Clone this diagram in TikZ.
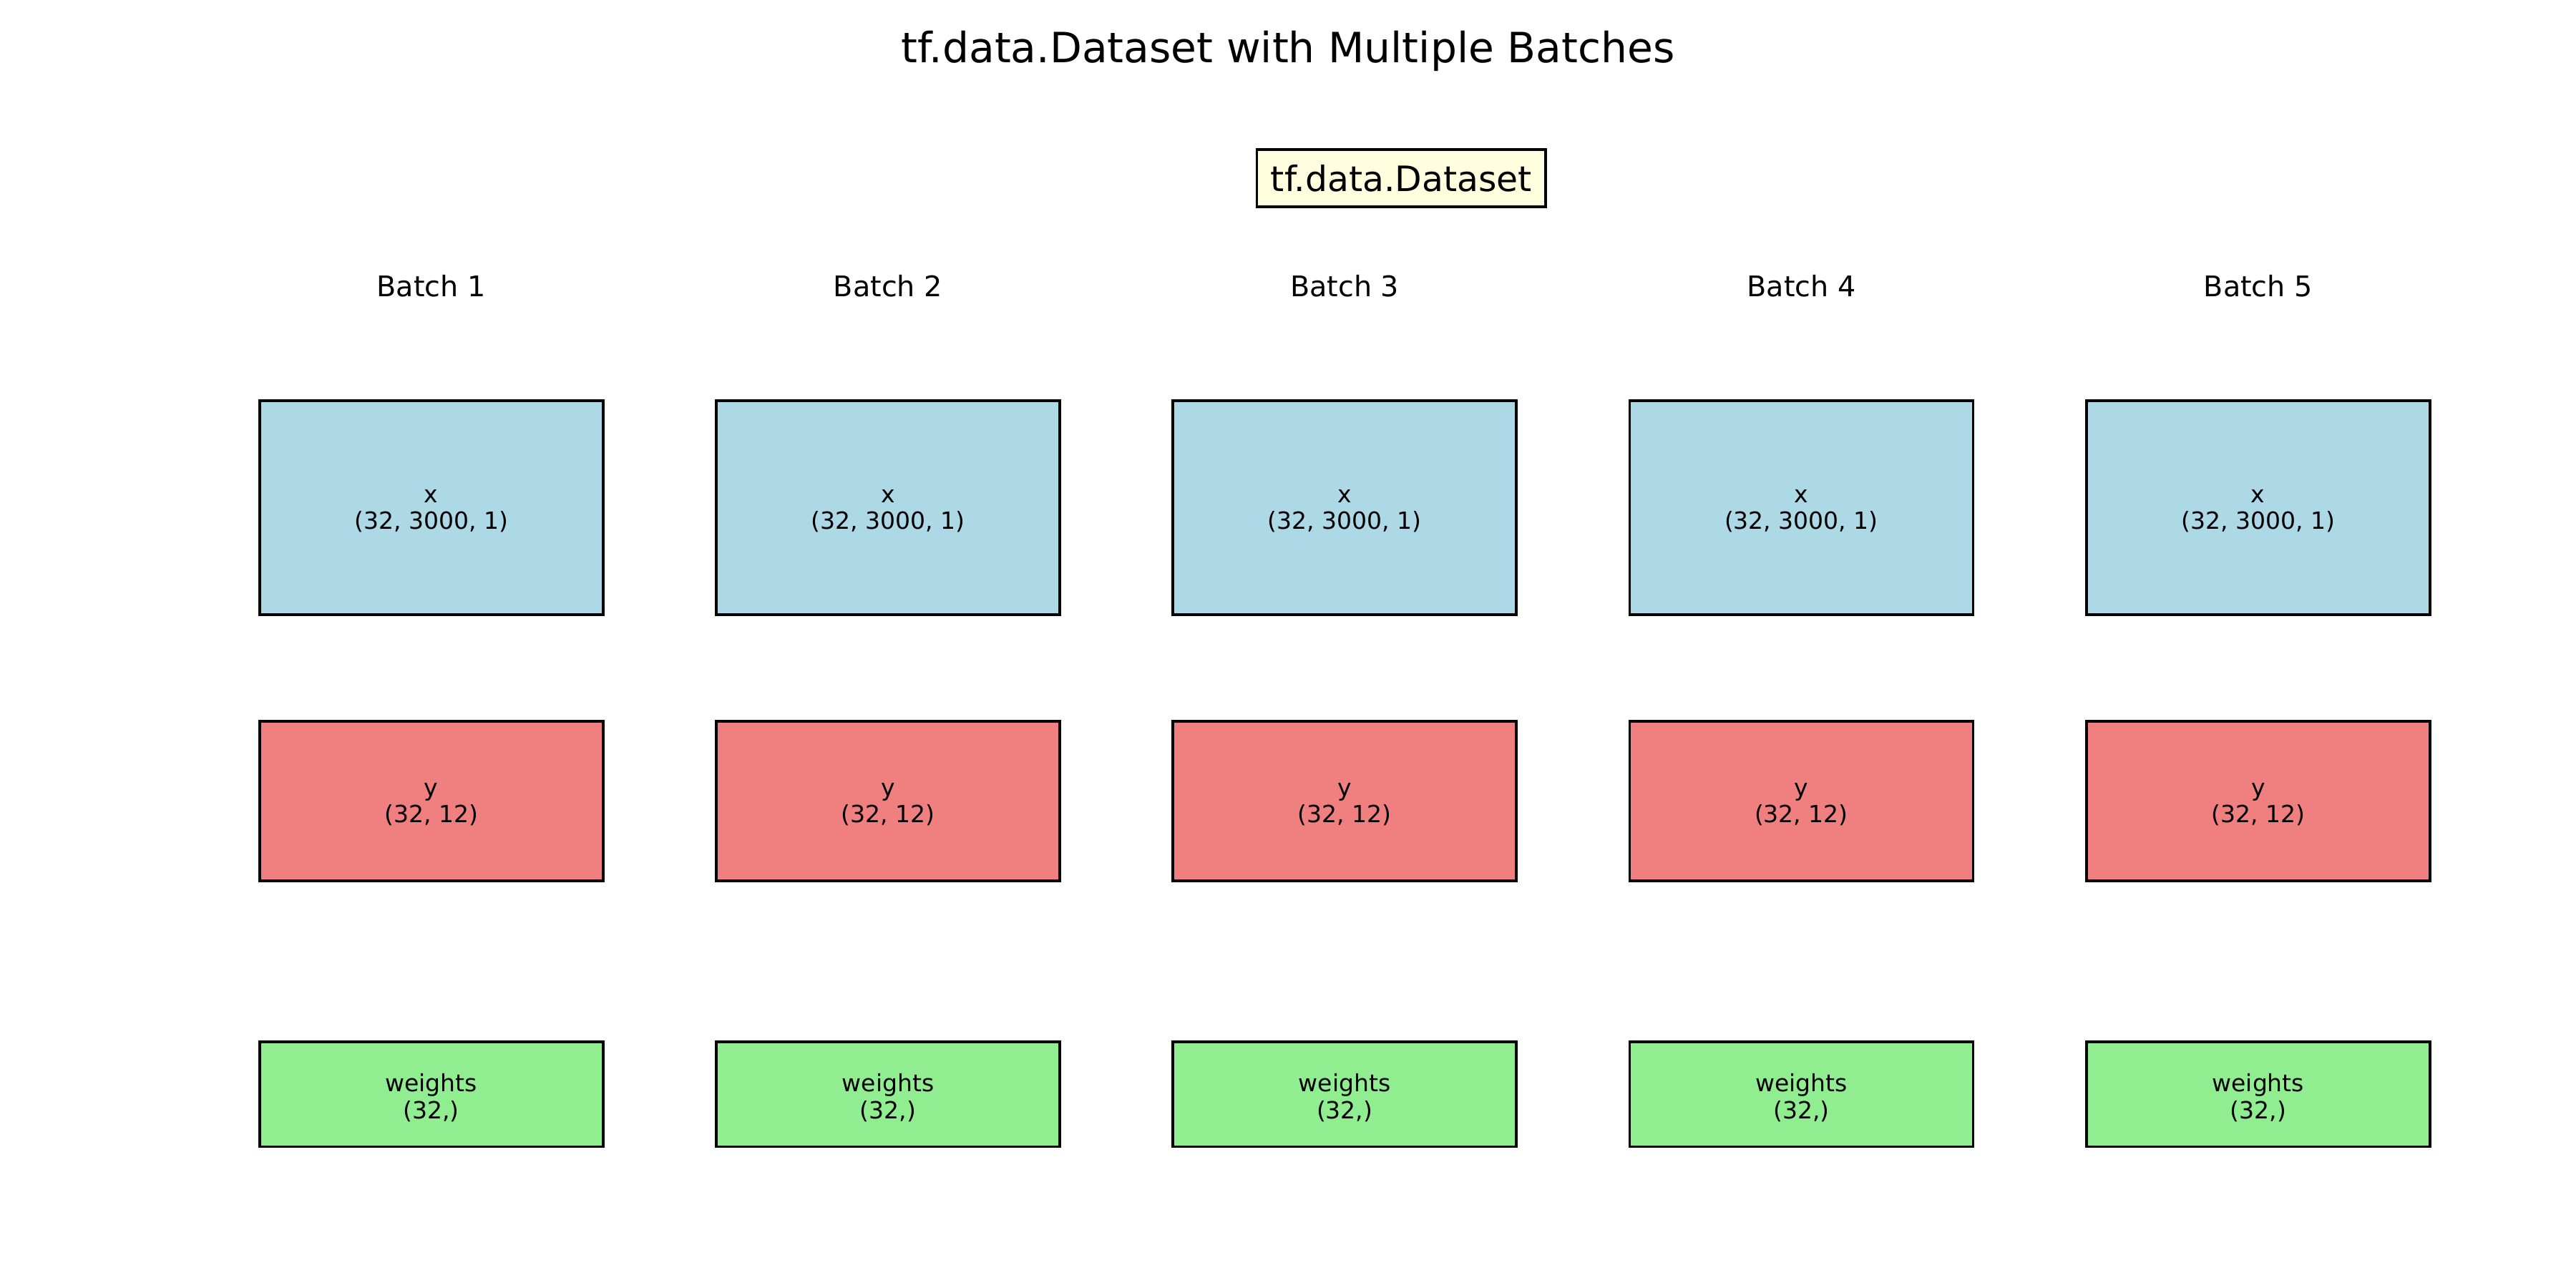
\documentclass[tikz,border=0pt]{standalone}
\usepackage{fontspec}
\setmainfont{DejaVu Sans}
\definecolor{lblue}{HTML}{ADD8E6}
\definecolor{lcoral}{HTML}{F08080}
\definecolor{lgreen}{HTML}{90EE90}
\definecolor{lyellow}{HTML}{FFFFE0}
\begin{document}
\begin{tikzpicture}[x=0.022959cm,y=-0.022959cm,
  tbox/.style={draw=black,line width=1.1pt,minimum width=4.80cm,inner sep=0pt},
  btext/.style={align=center,inner sep=0pt,yshift=-1.4pt,font=\fontsize{9.4}{10.6}\selectfont},
  xbox/.style={tbox,fill=lblue,minimum height=2.985cm},
  ybox/.style={tbox,fill=lcoral,minimum height=2.227cm},
  wbox/.style={tbox,fill=lgreen,minimum height=1.469cm},
  blabel/.style={font=\fontsize{11.3}{13}\selectfont},
  dsbox/.style={draw=black,line width=1.1pt,fill=lyellow,minimum width=4.04cm,minimum height=0.80cm,inner sep=0pt,font=\fontsize{13.9}{16}\selectfont},
  titlestyle/.style={font=\fontsize{16.6}{19}\selectfont}]
\useasboundingbox (0,0) rectangle (1568,784);
\node[titlestyle] (title) at (784,31) {tf.data.Dataset with Multiple Batches};
\node[dsbox] (ds) at (853,108.5) {tf.data.Dataset};
\foreach \i in {1,...,5}{
  \pgfmathsetmacro{\cx}{262.5+278*(\i-1)}
  \node[blabel] (b\i) at (\cx,174) {Batch \i};
  \node[xbox,label={[btext]center:x\\(32, 3000, 1)}] (x\i) at (\cx,309) {};
  \node[ybox,label={[btext]center:y\\(32, 12)}] (y\i) at (\cx,487.5) {};
  \node[wbox,label={[btext]center:weights\\(32,)}] (w\i) at (\cx,666) {};
}
\end{tikzpicture}
\end{document}
